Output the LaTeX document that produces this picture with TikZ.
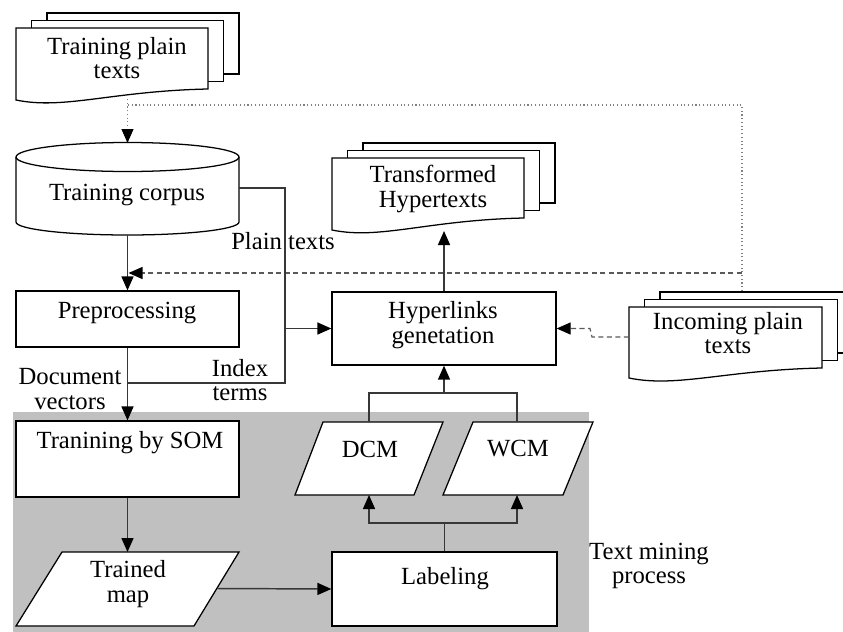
\documentclass[tikz,border=0pt]{standalone}
\usepackage{fontspec}
\setmainfont{Liberation Serif}
\usetikzlibrary{arrows.meta,fit}
\definecolor{regiongray}{RGB}{192,192,192}
\definecolor{linegray}{RGB}{55,55,55}

% stacked document symbol: left, top, right, left-bottom, right-bottom
\newcommand\docstack[5]{%
  \foreach \k in {2,1}{%
    \draw[outline] ({#1+15.5*\k},{#2-7.5*\k}) rectangle ({#3+15.5*\k},{#5-7.5*\k});}
  \draw[outline] (#1,#2) -- (#3,#2) -- (#3,#5)
    .. controls ({#1+0.5*(#3-#1)},{#5+2}) and ({#1+0.25*(#3-#1)},{#4+10}) .. (#1,#4) -- cycle;
}

\begin{document}
\begin{tikzpicture}[x=0.75pt,y=-0.75pt,
  outline/.style={draw=black,line width=0.95pt,fill=white},
  conn/.style={draw=linegray,line width=1.1pt},
  tip/.style={-{Triangle[length=10.5pt,width=9pt,color=black]}},
  dotline/.style={draw=gray,line width=0.8pt,dotted},
  dashline/.style={draw=gray!70!black,line width=0.9pt,dash pattern=on 3.8pt off 2.6pt},
  txt/.style={font=\fontsize{18.5}{18.5}\selectfont,align=center,inner sep=0pt},
  boxst/.style={outline,inner sep=0pt},
]
\useasboundingbox (0,0) rectangle (843,632);

% text mining region
\fill[regiongray] (13,412) rectangle (589,640);

% document stacks
\docstack{16}{28}{208}{100}{89}
\docstack{332}{158}{524}{230}{218}
\docstack{629}{307}{822}{378}{368}

% training corpus cylinder
\draw[outline] (16,157) -- (16,222) arc[start angle=180,end angle=360,x radius=111.5,y radius=-13]
  -- (239,157);
\draw[outline] (127.5,157) ellipse[x radius=111.5,y radius=14.5];

% process boxes
\node[boxst,fit={(16,291) (239,347)}] (prep) {};
\node[boxst,fit={(16,421) (239,497)}] (som) {};
\node[boxst,fit={(332,292) (556,365)}] (hyper) {};
\node[boxst,fit={(332,552) (557,626)}] (label) {};

% data parallelograms
\draw[outline] (62,552) -- (239,552) -- (194,626) -- (16,626) -- cycle;
\draw[outline] (323,422) -- (443,422) -- (414,495) -- (295,495) -- cycle;
\draw[outline] (473,422) -- (593,422) -- (563,495) -- (443,495) -- cycle;

% anchor points on drawn shapes
\coordinate (tpt-bot) at (127.5,99);
\coordinate (corpus-top) at (127.5,143);
\coordinate (corpus-bot) at (127.5,235);
\coordinate (corpus-right) at (239,188);
\coordinate (inc-top) at (742,291);
\coordinate (inc-left) at (629,337);
\coordinate (trans-bot) at (444,231);
\coordinate (map-top) at (127.5,552);
\coordinate (map-right) at (217,588.5);
\coordinate (dcm-top) at (369,422);
\coordinate (dcm-bot) at (369,495);
\coordinate (wcm-top) at (517,422);
\coordinate (wcm-bot) at (517,495);
\coordinate (feed-corner) at (742,105);
\coordinate (feed-left) at (127.5,105);
\coordinate (dash-start) at (742,273);
\coordinate (dash-end) at (128.5,273);
\coordinate (pt-top) at (285,188);
\coordinate (pt-bot) at (285,383);
\coordinate (it-left) at (127.5,383);
\coordinate (pt-join) at (285,328.5);
\coordinate (inc-step1) at (592,337);
\coordinate (inc-step2) at (590,328.5);
\coordinate (lab-split) at (444.5,523);
\coordinate (cm-join) at (444,393);

% connectors
\draw[dotline,tip] (tpt-bot) -- (corpus-top);
\draw[dotline] (inc-top) -- (feed-corner) -- (feed-left);
\draw[dashline,tip] (dash-start) -- (dash-end);
\draw[conn,tip] (corpus-bot) -- (prep.north);
\draw[conn] (corpus-right) -- (pt-top) -- (pt-bot) -- (it-left);
\draw[conn,tip] (pt-join) -- (hyper.west);
\draw[conn,tip] (prep.south) -- (som.north);
\draw[conn,tip] (som.south) -- (map-top);
\draw[conn,tip] (map-right) -- (label.west);
\draw[conn] (label.north) -- (lab-split);
\draw[conn,tip] (lab-split) -| (dcm-bot);
\draw[conn,tip] (lab-split) -| (wcm-bot);
\draw[conn] (dcm-top) |- (cm-join) -| (wcm-top);
\draw[conn,tip] (cm-join) -- (hyper.south);
\draw[conn,tip] (hyper.north) -- (trans-bot);
\draw[dashline,tip] (inc-left) -- (inc-step1) -- (inc-step2) -- (hyper.east);

% texts
\node[txt] (t-tpt) at (117,58) {Training plain\\texts};
\node[txt] (t-corpus) at (127,195) {Training corpus};
\node[txt] (t-plain) at (283,241) {Plain texts};
\node[txt] (t-trans) at (433,189) {Transformed\\Hypertexts};
\node[txt] (t-prep) at (127,313) {Preprocessing};
\node[txt] (t-hyper) at (443,325) {Hyperlinks\\genetation};
\node[txt] (t-inc) at (728,333) {Incoming plain\\texts};
\node[txt] (t-doc) at (70,389) {Document\\vectors};
\node[txt] (t-idx) at (240,380) {Index\\terms};
\node[txt] (t-som) at (130,443) {Tranining by SOM};
\node[txt] (t-dcm) at (370,449) {DCM};
\node[txt] (t-wcm) at (518,449) {WCM};
\node[txt] (t-map) at (128,584) {Trained\\map};
\node[txt] (t-label) at (445,579) {Labeling};
\node[txt] (t-tm) at (649,566) {Text mining\\process};
\end{tikzpicture}
\end{document}
